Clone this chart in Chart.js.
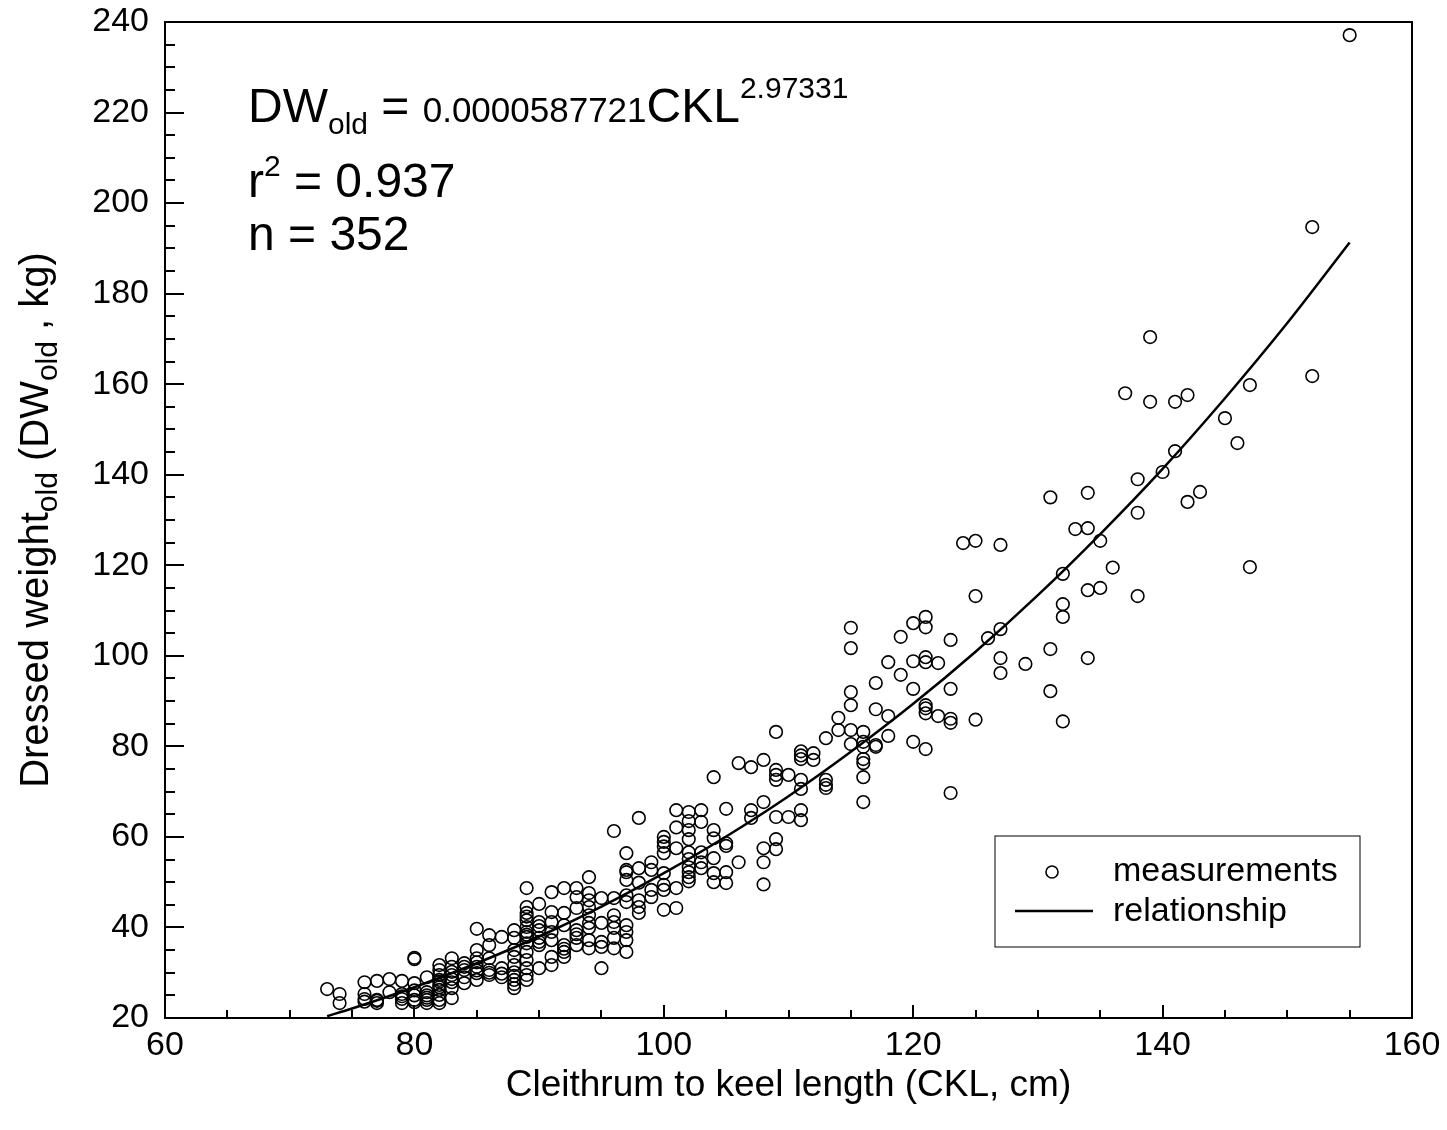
<!DOCTYPE html>
<html>
<head>
<meta charset="utf-8">
<title>Dressed weight vs cleithrum to keel length</title>
<script src="https://cdn.jsdelivr.net/npm/chart.js@4/dist/chart.umd.min.js"></script>
<style>
  body { margin: 0; background: #fff; }
  canvas { display: block; }
</style>
</head>
<body>
<canvas id="chart" width="1447" height="1130"></canvas>
<script>
const ckl = [
  73,
  74, 74,
  76, 76, 76, 76,
  77, 77, 77, 77,
  78, 78,
  79, 79, 79, 79, 79,
  80, 80, 80, 80, 80, 80, 80,
  81, 81, 81, 81, 81, 81,
  82, 82, 82, 82, 82, 82, 82, 82, 82, 82, 82,
  83, 83, 83, 83, 83, 83, 83, 83,
  84, 84, 84, 84, 84,
  85, 85, 85, 85, 85, 85, 85, 85,
  86, 86, 86, 86, 86, 86,
  87, 87, 87, 87,
  88, 88, 88, 88, 88, 88, 88, 88, 88, 88,
  89, 89, 89, 89, 89, 89, 89, 89, 89, 89, 89, 89, 89, 89, 89,
  90, 90, 90, 90, 90, 90, 90, 90,
  91, 91, 91, 91, 91, 91, 91,
  92, 92, 92, 92, 92, 92, 92,
  93, 93, 93, 93, 93, 93, 93,
  94, 94, 94, 94, 94, 94, 94, 94, 94,
  95, 95, 95, 95, 95,
  96, 96, 96, 96, 96, 96, 96,
  97, 97, 97, 97, 97, 97, 97, 97, 97, 97,
  98, 98, 98, 98, 98, 98,
  99, 99, 99, 99,
  100, 100, 100, 100, 100, 100, 100, 100,
  101, 101, 101, 101, 101,
  102, 102, 102, 102, 102, 102, 102, 102, 102, 102,
  103, 103, 103, 103, 103,
  104, 104, 104, 104, 104, 104,
  105, 105, 105, 105, 105,
  106, 106,
  107, 107, 107,
  108, 108, 108, 108, 108,
  109, 109, 109, 109, 109, 109, 109,
  110, 110,
  111, 111, 111, 111, 111, 111, 111,
  112, 112,
  113, 113, 113, 113,
  114, 114,
  115, 115, 115, 115, 115, 115,
  116, 116, 116, 116, 116, 116, 116,
  117, 117, 117, 117,
  118, 118, 118,
  119, 119,
  120, 120, 120, 120,
  121, 121, 121, 121, 121, 121, 121, 121,
  122, 122,
  123, 123, 123, 123, 123,
  124,
  125, 125, 125,
  126,
  127, 127, 127, 127,
  129,
  131, 131, 131,
  132, 132, 132, 132,
  133,
  134, 134, 134, 134,
  135, 135,
  136,
  137,
  138, 138, 138,
  139, 139,
  140,
  141, 141,
  142, 142,
  143,
  145,
  146,
  147, 147,
  152, 152,
  155
];
const dw = [
  26.4,
  25.3, 23.3,
  27.9, 25.3, 24.2, 23.6,
  28.2, 24.0, 23.3, 23.8,
  28.6, 25.7,
  28.2, 25.3, 24.2, 23.3, 24.8,
  33.0, 33.3, 27.7, 26.1, 25.0, 24.0, 23.5,
  29.0, 25.7, 25.0, 24.0, 23.3, 24.5,
  31.7, 30.6, 29.5, 28.4, 27.3, 26.2, 25.1, 24.0, 23.3, 28.0, 26.8,
  33.2, 31.3, 29.5, 27.9, 26.6, 24.4, 28.6, 30.2,
  32.1, 30.6, 29.0, 27.7, 31.3,
  39.7, 35.0, 33.2, 31.3, 29.9, 28.4, 32.3, 30.5,
  38.3, 36.1, 33.2, 30.6, 29.5, 30.0,
  37.9, 31.0, 29.0, 29.8,
  39.4, 37.7, 35.0, 33.5, 31.7, 30.1, 28.4, 26.6, 27.5, 29.3,
  48.7, 44.5, 43.2, 41.6, 40.1, 39.0, 37.9, 36.5, 34.6, 32.8, 31.0, 29.5, 28.4, 42.4, 38.4,
  45.2, 41.2, 39.4, 37.7, 36.1, 31.0, 40.3, 36.8,
  47.8, 43.4, 41.2, 39.0, 37.2, 33.5, 31.7,
  48.7, 43.2, 40.5, 36.1, 34.6, 33.5, 35.3,
  48.7, 46.7, 44.3, 39.4, 37.7, 36.1, 38.5,
  51.1, 47.6, 46.0, 44.5, 42.7, 39.9, 37.2, 35.4, 41.0,
  46.5, 41.0, 36.8, 35.7, 31.0,
  61.3, 46.5, 42.7, 41.2, 39.9, 37.7, 35.4,
  56.4, 52.7, 52.2, 50.5, 47.1, 45.6, 40.5, 39.0, 37.2, 34.6,
  64.2, 53.1, 49.9, 46.0, 44.5, 43.2,
  54.4, 52.7, 48.3, 46.7,
  60.0, 58.9, 57.9, 56.4, 52.0, 49.4, 48.3, 43.9,
  65.9, 62.1, 57.5, 48.7, 44.3,
  65.5, 63.5, 61.5, 59.5, 56.6, 55.1, 53.3, 52.2, 51.1, 50.2,
  65.9, 63.3, 56.6, 54.4, 53.1,
  73.2, 61.5, 59.7, 55.3, 52.0, 50.0,
  66.2, 58.6, 58.0, 52.2, 49.8,
  76.3, 54.4,
  75.4, 65.9, 64.2,
  77.0, 67.7, 57.5, 54.4, 49.5,
  83.2, 74.8, 73.7, 72.6, 64.4, 59.5, 57.3,
  73.7, 64.4,
  78.9, 78.0, 77.2, 72.6, 70.6, 65.9, 63.7,
  78.5, 77.0,
  81.8, 72.6, 71.5, 70.8,
  86.3, 83.6,
  106.2, 101.7, 92.0, 89.1, 83.6, 80.5,
  83.2, 81.0, 79.9, 77.2, 76.3, 73.2, 67.7,
  94.0, 88.2, 80.3, 79.9,
  98.6, 86.7, 82.3,
  104.2, 95.8,
  107.2, 98.8, 92.7, 81.0,
  108.6, 106.3, 99.7, 98.6, 89.1, 88.4, 87.3, 79.4,
  98.4, 86.7,
  103.5, 92.7, 86.1, 85.2, 69.7,
  124.9,
  125.4, 113.2, 85.9,
  103.9,
  124.5, 105.9, 99.5, 96.2,
  98.2,
  135.0, 101.5, 92.2,
  118.1, 111.4, 108.6, 85.5,
  128.0,
  136.0, 128.2, 114.5, 99.5,
  125.4, 115.0,
  119.5,
  158.0,
  139.0, 131.6, 113.2,
  170.4, 156.1,
  140.6,
  156.1, 145.2,
  157.6, 134.0,
  136.2,
  152.5,
  147.0,
  159.8, 119.6,
  194.7, 161.8,
  237.1
];

// fitted relationship
const fitCkl = [73, 75, 80, 85, 90, 95, 100, 105, 110, 115, 120, 125, 130, 135, 140, 145, 150, 155];
const fitDw = [20.4, 22.1, 26.8, 32.1, 38.0, 44.6, 52.0, 60.1, 69.0, 78.8, 89.4, 100.9, 113.4, 126.9, 141.3, 156.9, 173.5, 191.3];

const xTicks = [60, 80, 100, 120, 140, 160];
const yTicks = [20, 40, 60, 80, 100, 120, 140, 160, 180, 200, 220, 240];

const FONT = '"Liberation Sans", Arial, sans-serif';

// draw a row of text pieces with their own size and vertical shift (sub/superscripts)
function drawRuns(ctx, x, y, runs) {
  for (const r of runs) {
    ctx.font = r.s + 'px ' + FONT;
    ctx.fillText(r.t, x, y + (r.dy || 0));
    x += ctx.measureText(r.t).width;
  }
}
function runsWidth(ctx, runs) {
  let w = 0;
  for (const r of runs) {
    ctx.font = r.s + 'px ' + FONT;
    w += ctx.measureText(r.t).width;
  }
  return w;
}

const framePlugin = {
  id: 'frame',
  afterDraw(chart) {
    const ctx = chart.ctx;
    const a = chart.chartArea;
    const xs = chart.scales.x, ys = chart.scales.y;
    ctx.save();
    ctx.strokeStyle = '#000';
    ctx.fillStyle = '#000';

    // box
    ctx.lineWidth = 2;
    ctx.strokeRect(a.left, a.top, a.right - a.left, a.bottom - a.top);

    // inward ticks, minor every 5
    ctx.beginPath();
    for (let v = 60; v <= 160; v += 5) {
      const px = Math.round(xs.getPixelForValue(v));
      const len = v % 20 === 0 ? 13 : 8;
      ctx.moveTo(px, a.bottom);
      ctx.lineTo(px, a.bottom - len);
    }
    for (let v = 20; v <= 240; v += 5) {
      const py = Math.round(ys.getPixelForValue(v));
      const len = v % 20 === 0 ? 19 : 10;
      ctx.moveTo(a.left, py);
      ctx.lineTo(a.left + len, py);
    }
    ctx.stroke();

    // axis titles
    ctx.textBaseline = 'alphabetic';
    ctx.textAlign = 'center';
    ctx.font = '37px ' + FONT;
    ctx.fillText('Cleithrum to keel length (CKL, cm)', (a.left + a.right) / 2, a.bottom + 78);

    ctx.textAlign = 'left';
    const yTitle = [
      { t: 'Dressed weight', s: 40 },
      { t: 'old', s: 30, dy: 9 },
      { t: ' (DW', s: 40 },
      { t: 'old', s: 30, dy: 9 },
      { t: ' , kg)', s: 40 }
    ];
    ctx.save();
    ctx.translate(48, (a.top + a.bottom) / 2);
    ctx.rotate(-Math.PI / 2);
    drawRuns(ctx, -runsWidth(ctx, yTitle) / 2, 0, yTitle);
    ctx.restore();

    // equation block
    const ex = a.left + 83;
    drawRuns(ctx, ex, 122, [
      { t: 'DW', s: 48 },
      { t: 'old', s: 30, dy: 12 },
      { t: ' = ', s: 48 },
      { t: '0.0000587721', s: 35 },
      { t: 'CKL', s: 48 },
      { t: '2.97331', s: 30, dy: -24 }
    ]);
    drawRuns(ctx, ex, 197, [
      { t: 'r', s: 48 },
      { t: '2', s: 30, dy: -21 },
      { t: ' = 0.937', s: 48 }
    ]);
    drawRuns(ctx, ex, 250, [{ t: 'n = 352', s: 48 }]);

    // legend box
    const lx = a.right - 417, ly = a.bottom - 182;
    ctx.lineWidth = 1;
    ctx.strokeRect(lx, ly, 365, 111);
    ctx.lineWidth = 1.6;
    ctx.beginPath();
    ctx.arc(lx + 57, ly + 36, 6, 0, Math.PI * 2);
    ctx.stroke();
    ctx.lineWidth = 2.5;
    ctx.beginPath();
    ctx.moveTo(lx + 20, ly + 75);
    ctx.lineTo(lx + 98, ly + 75);
    ctx.stroke();
    ctx.font = '34px ' + FONT;
    ctx.fillText('measurements', lx + 118, ly + 45);
    ctx.fillText('relationship', lx + 118, ly + 85);

    ctx.restore();
  }
};

const ctx = document.getElementById('chart').getContext('2d');
new Chart(ctx, {
  type: 'scatter',
  data: {
    datasets: [
      {
        label: 'measurements',
        data: ckl.map((x, i) => ({ x: x, y: dw[i] })),
        pointRadius: 6.3,
        pointHoverRadius: 6.3,
        pointBorderWidth: 1.6,
        pointBorderColor: '#000',
        pointBackgroundColor: 'rgba(0,0,0,0)',
        showLine: false
      },
      {
        label: 'relationship',
        data: fitCkl.map((x, i) => ({ x: x, y: fitDw[i] })),
        showLine: true,
        borderColor: '#000',
        borderWidth: 2.5,
        pointRadius: 0,
        cubicInterpolationMode: 'monotone',
        fill: false
      }
    ]
  },
  options: {
    responsive: false,
    animation: false,
    events: [],
    layout: { padding: { top: 22, right: 35, left: 0, bottom: 0 } },
    plugins: {
      legend: { display: false },
      tooltip: { enabled: false }
    },
    scales: {
      x: {
        type: 'linear',
        min: 60,
        max: 160,
        afterFit: s => { s.height = 112; s.paddingLeft = 0; s.paddingRight = 0; },
        afterBuildTicks: s => { s.ticks = xTicks.map(v => ({ value: v })); },
        grid: { display: false, drawTicks: false },
        border: { display: false },
        ticks: { color: '#000', padding: 7, font: { family: FONT, size: 34 } }
      },
      y: {
        type: 'linear',
        min: 20,
        max: 240,
        afterFit: s => { s.width = 165; s.paddingTop = 0; s.paddingBottom = 0; },
        afterBuildTicks: s => { s.ticks = yTicks.map(v => ({ value: v })); },
        grid: { display: false, drawTicks: false },
        border: { display: false },
        ticks: { color: '#000', padding: 16, font: { family: FONT, size: 34 } }
      }
    }
  },
  plugins: [framePlugin]
});
</script>
</body>
</html>
